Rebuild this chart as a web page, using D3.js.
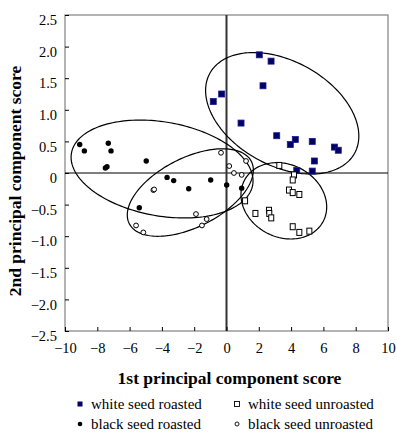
<!DOCTYPE html>
<html>
<head>
<meta charset="utf-8">
<script src="https://cdn.jsdelivr.net/npm/d3@7"></script>
<style>
body { margin:0; background:#fff; }
text { font-family: "Liberation Serif", "Times New Roman", serif; fill:#000; }
</style>
</head>
<body>
<div id="chart"></div>
<script>
// PCA scores
var whiteRoasted = [[2.03,1.87],[2.76,1.77],[2.26,1.38],[-0.30,1.25],[-0.82,1.13],[0.90,0.79],
  [3.11,0.59],[4.26,0.53],[3.95,0.45],[5.31,0.50],[6.68,0.41],[6.92,0.36],[5.44,0.19],[4.35,0.04],[5.31,0.03]];
var whiteUnroasted = [[3.27,0.12],[4.18,-0.03],[4.10,-0.11],[3.87,-0.27],[4.10,-0.31],[4.51,-0.34],
  [1.15,-0.44],[1.79,-0.64],[2.63,-0.59],[2.65,-0.64],[2.77,-0.71],[4.10,-0.85],[4.51,-0.94],[5.13,-0.92]];
var blackRoasted = [[-9.09,0.45],[-8.80,0.35],[-7.32,0.47],[-7.15,0.35],[-7.50,0.08],[-7.40,0.10],
  [-4.97,0.19],[-3.68,-0.07],[-3.27,-0.12],[-2.34,-0.25],[-0.98,-0.11],[0.01,-0.19],[0.94,-0.24],[-5.40,-0.55]];
var blackUnroasted = [[-0.34,0.32],[0.17,0.11],[0.46,0.00],[0.94,-0.03],[1.21,0.19],[-4.53,-0.27],
  [-4.48,-0.26],[-1.89,-0.65],[-1.23,-0.73],[-1.52,-0.83],[-5.15,-0.94],[-5.60,-0.83]];
// group ellipses: centre, semi-axis vector u, semi-axis vector v (data units)
var ellipses = [
  {c:[-3.99,0.063], u:[5.61,-0.253], v:[-0.505,-0.732]},
  {c:[-2.24,-0.309], u:[3.78,0.492], v:[0.972,-0.487]},
  {c:[3.45,0.945], u:[4.48,-0.633], v:[-1.56,-0.723]},
  {c:[3.55,-0.44], u:[2.45,-0.319], v:[-1.02,-0.513]}
];
var xTicks = d3.range(-10, 11, 2);
var yTicks = [2.5,2.0,1.5,1.0,0.5,0,-0.5,-1.0,-1.5,-2.0,-2.5];
var legendLabels = ["white seed roasted","white seed unroasted","black seed roasted","black seed unroasted"];

var W = 397, H = 432;
var margin = {top:15, right:9, bottom:101, left:65};
var width = W - margin.left - margin.right,
    height = H - margin.top - margin.bottom;

var x = d3.scaleLinear().domain([-10,10]).range([0,width]);
var y = d3.scaleLinear().domain([-2.5,2.5]).range([height,0]);

var svg = d3.select("#chart").append("svg")
    .attr("width", W).attr("height", H);
var g = svg.append("g")
    .attr("transform", "translate(" + margin.left + "," + margin.top + ")");

// frame
g.append("rect")
    .attr("width", width).attr("height", height)
    .attr("fill", "none").attr("stroke", "#9a9a9a").attr("stroke-width", 1.5);

// zero lines
g.append("line")
    .attr("x1", 0).attr("x2", width).attr("y1", y(0)).attr("y2", y(0))
    .attr("stroke", "#000").attr("stroke-width", 1.2);
g.append("line")
    .attr("x1", x(0)).attr("x2", x(0)).attr("y1", 0).attr("y2", height)
    .attr("stroke", "#333").attr("stroke-width", 2);

// axes
var yAxis = g.append("g")
    .call(d3.axisLeft(y).tickValues(yTicks).tickSizeInner(-4).tickSizeOuter(0).tickPadding(8)
      .tickFormat(function(d){ return d === 0 ? "0" : d3.format(".1f")(d); }));
yAxis.select(".domain").remove();
yAxis.selectAll("line").attr("stroke", "#000");
yAxis.selectAll("text").attr("y", 5).style("font-size", "14.5px")
    .style("font-family", "Liberation Serif");

var xAxis = g.append("g")
    .attr("transform", "translate(0," + height + ")")
    .call(d3.axisBottom(x).tickValues(xTicks).tickSizeInner(-4).tickSizeOuter(0).tickPadding(12));
xAxis.select(".domain").remove();
xAxis.selectAll("line").attr("stroke", "#000");
xAxis.selectAll("text").style("font-size", "14.5px").style("font-family", "Liberation Serif");

// ellipses
var line = d3.line()
    .x(function(p){ return x(p[0]); })
    .y(function(p){ return y(p[1]); })
    .curve(d3.curveLinearClosed);
var ts = d3.range(0, 2*Math.PI, Math.PI/90);
g.selectAll(".ell")
    .data(ellipses)
  .enter().append("path")
    .attr("class", "ell")
    .attr("d", function(e){
        return line(ts.map(function(t){
            return [e.c[0] + e.u[0]*Math.cos(t) + e.v[0]*Math.sin(t),
                    e.c[1] + e.u[1]*Math.cos(t) + e.v[1]*Math.sin(t)];
        }));
    })
    .attr("fill", "none").attr("stroke", "#000").attr("stroke-width", 1.2);

// points
g.selectAll(".wr").data(whiteRoasted).enter().append("rect")
    .attr("x", function(d){ return x(d[0]) - 3; })
    .attr("y", function(d){ return y(d[1]) - 3; })
    .attr("width", 6).attr("height", 6)
    .attr("fill", "#000066").attr("stroke", "#1a1a8c").attr("stroke-width", 0.8);
g.selectAll(".wu").data(whiteUnroasted).enter().append("rect")
    .attr("x", function(d){ return x(d[0]) - 2.5; })
    .attr("y", function(d){ return y(d[1]) - 3; })
    .attr("width", 5).attr("height", 6)
    .attr("fill", "#fff").attr("stroke", "#000").attr("stroke-width", 1);
g.selectAll(".br").data(blackRoasted).enter().append("circle")
    .attr("cx", function(d){ return x(d[0]); })
    .attr("cy", function(d){ return y(d[1]); })
    .attr("r", 2.7).attr("fill", "#000");
g.selectAll(".bu").data(blackUnroasted).enter().append("circle")
    .attr("cx", function(d){ return x(d[0]); })
    .attr("cy", function(d){ return y(d[1]); })
    .attr("r", 2.4).attr("fill", "#fff").attr("stroke", "#000").attr("stroke-width", 1);

// axis titles
svg.append("text")
    .attr("x", margin.left + width/2 + 3).attr("y", 384)
    .attr("text-anchor", "middle")
    .style("font-weight", "bold").style("font-size", "17.5px")
    .text("1st principal component score");
svg.append("text")
    .attr("transform", "translate(21," + (margin.top + height/2 + 8) + ") rotate(-90)")
    .attr("text-anchor", "middle")
    .style("font-weight", "bold").style("font-size", "17.5px")
    .text("2nd principal component score");

// legend
var legPos = [[80,404],[237,404],[80,424],[237,424]];
var leg = svg.selectAll(".leg").data(legendLabels).enter().append("g")
    .attr("transform", function(d,i){ return "translate(" + legPos[i][0] + "," + legPos[i][1] + ")"; });
leg.each(function(d,i){
    var s = d3.select(this);
    if (i === 0) s.append("rect").attr("x",-2.5).attr("y",-2.5).attr("width",5).attr("height",5).attr("fill","#000066");
    if (i === 1) s.append("rect").attr("x",-2.5).attr("y",-2.5).attr("width",5).attr("height",5).attr("fill","#fff").attr("stroke","#000").attr("stroke-width",0.9);
    if (i === 2) s.append("circle").attr("r",2.3).attr("fill","#000");
    if (i === 3) s.append("circle").attr("r",2).attr("fill","#fff").attr("stroke","#000").attr("stroke-width",0.9);
});
leg.append("text")
    .attr("x", 11).attr("y", 5)
    .style("font-size", "15px")
    .text(function(d){ return d; });
</script>
</body>
</html>
